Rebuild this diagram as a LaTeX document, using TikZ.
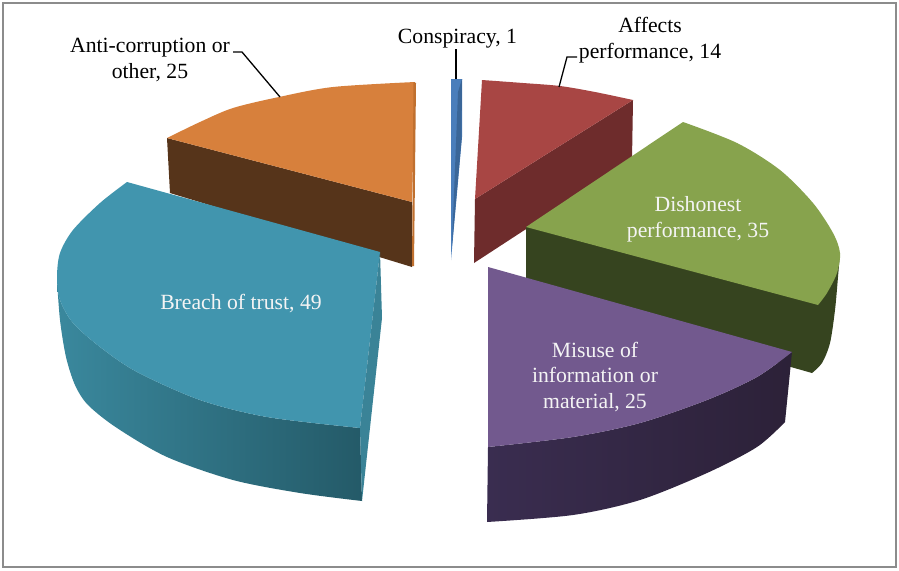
\documentclass[tikz,border=0pt]{standalone}
\usepackage{fontspec}
\setmainfont{Liberation Serif}
\newfontfamily\lblfont{Liberation Serif}
\definecolor{orTop}{HTML}{D7803C}
\definecolor{orSide}{HTML}{56341A}
\definecolor{orEdge}{HTML}{C0702F}
\definecolor{brTop}{HTML}{4195AE}
\definecolor{brSideL}{HTML}{3A889D}
\definecolor{brSideR}{HTML}{245A68}
\definecolor{brEdge}{HTML}{3A8397}
\definecolor{cnTop}{HTML}{4A7EBB}
\definecolor{cnDark}{HTML}{3A6698}
\definecolor{rdTop}{HTML}{A84644}
\definecolor{rdSide}{HTML}{6E2C2C}
\definecolor{grTop}{HTML}{87A34D}
\definecolor{grSide}{HTML}{36441F}
\definecolor{puTop}{HTML}{72598E}
\definecolor{puSideL}{HTML}{3A2D50}
\definecolor{puSideR}{HTML}{2C2138}
\definecolor{frameGray}{HTML}{8C8C8C}
\definecolor{lblWhite}{HTML}{F4F4F4}
\begin{document}
\begin{tikzpicture}[x=1pt,y=-1pt,
  lbl/.style={font=\lblfont\fontsize{21.7}{25.9}\selectfont, inner sep=0pt, align=center, text=black},
  inlbl/.style={lbl, text=lblWhite},
  leader/.style={draw=black, line width=1.3pt},
  frame/.style={draw=frameGray, line width=1.5pt}]
\useasboundingbox (0,0) rectangle (899,570);
\fill[white] (0,0) rectangle (899,570);
\draw[frame] (3,3) rectangle (896,567);

% Anti-corruption slice (orange)
\fill[orSide] (167,138) -- (412,202) -- (412,267) -- (170,193) -- cycle;
\fill[orTop] (412,202) -- plot[smooth] coordinates {(167,138) (200,122) (233,108) (279,97) (333,87) (415,82)} -- cycle;
\fill[orEdge] (413.5,82) -- (416,83) -- (414,266) -- (412,266) -- cycle;

% Breach of trust slice (blue)
\shade[left color=brSideL, right color=brSideR]
  plot[smooth] coordinates {(57,277) (60,300) (73,323) (100,347) (137,372) (200,400) (267,417) (360,428)}
  -- plot[smooth] coordinates {(362,501) (300,493) (233,480) (167,457) (117,428) (88,405) (75,385) (66,357) (60,320) (57,280)} -- cycle;
\fill[brTop] (380,252) -- plot[smooth] coordinates {(127,182) (100,203) (73,230) (60,253) (57,277) (60,300) (73,323) (100,347) (137,372) (200,400) (267,417) (360,428)} -- cycle;
\fill[brEdge] (380,252) -- (382,318) -- (362,501) -- (360,428) -- cycle;

% Conspiracy slice (thin blue)
\fill[cnTop] (451,79) -- (462,79) -- (462,137) -- (451,260) -- cycle;
\fill[cnDark] (458,92) -- (462,79) -- (461.5,140) -- (452,245) -- cycle;

% Affects performance slice (red)
\fill[rdSide] (475,199) -- (633,100) -- (632,160) -- (474,263) -- cycle;
\fill[rdTop] (475,199) -- plot[smooth] coordinates {(482,80) (523,83) (560,86) (595,92) (633,100)} -- cycle;

% Dishonest performance slice (green)
\fill[grSide] (526,227) -- plot[smooth] coordinates {(840,253) (838,277) (835,310) (830,343) (822,363) (812,373)} -- (526,292) -- cycle;
\fill[grTop] (526,227) -- plot[smooth] coordinates {(683,122) (737,143) (780,170) (813,203) (833,233) (840,253) (837,273) (827,293) (818,305)} -- cycle;

% Misuse slice (purple)
\shade[left color=puSideL, right color=puSideR]
  plot[smooth] coordinates {(488,447) (573,437) (640,423) (707,400) (757,377) (792,352)}
  -- plot[smooth] coordinates {(785,422) (757,447) (707,473) (640,500) (573,515) (487,522)} -- cycle;
\fill[puTop] (488,267) -- (792,352) -- plot[smooth] coordinates {(792,352) (757,377) (707,400) (640,423) (573,437) (488,447)} -- cycle;

% Labels
\node[lbl, anchor=base] (consLbl) at (457.5,43) {Conspiracy, 1};
\node[lbl] (affLbl) at (650,40) {Affects\\performance, 14};
\node[lbl] (antiLbl) at (150,60) {Anti-corruption or\\other, 25};
\node[inlbl, anchor=base] (brLbl) at (241,309) {Breach of trust, 49};
\node[inlbl] (disLbl) at (698,219.5) {Dishonest\\performance, 35};
\node[inlbl] (misLbl) at (595,377) {Misuse of\\information or\\material, 25};

% Leader lines
\coordinate (consA) at (456,49);
\coordinate (consB) at (456,79);
\coordinate (affA) at (577,57);
\coordinate (affK) at (567,57);
\coordinate (affB) at (559,87);
\coordinate (antiA) at (233,52);
\coordinate (antiK) at (242,52);
\coordinate (antiB) at (280,97);
\draw[leader] (consA) -- (consB);
\draw[leader] (affA) -- (affK) -- (affB);
\draw[leader] (antiA) -- (antiK) -- (antiB);
\end{tikzpicture}
\end{document}
